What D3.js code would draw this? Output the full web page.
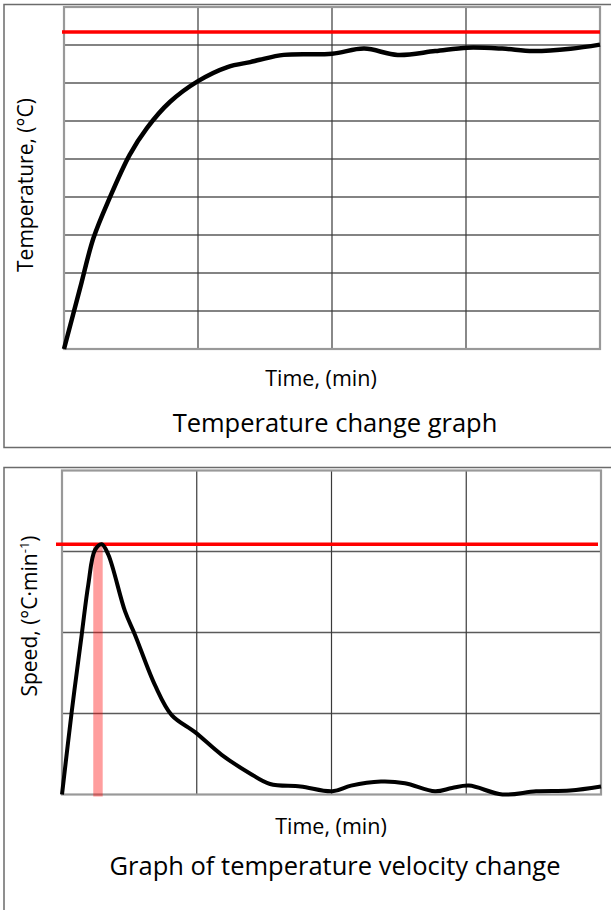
<!DOCTYPE html>
<html>
<head>
<meta charset="utf-8">
<script src="https://cdn.jsdelivr.net/npm/d3@7"></script>
<style>
  body { margin: 0; background: #fff; }
  text { font-family: "Open Sans", "Noto Sans", sans-serif; fill: #000; }
</style>
</head>
<body>
<div id="chart"></div>
<script>
// temperature curve, time in min (4 columns of 10), temperature (9 rows of 10)
var tempTime  = [0, 1.2, 2.2, 3.4, 4.9, 6.2, 7.9, 10, 12.2, 13.9, 14.6, 16.4, 20, 22.4, 24.9, 27.7, 30.1, 32.7, 35, 37.8, 40];
var tempValue = [0, 16, 29.2, 39.7, 51.1, 58.2, 65, 70.5, 74.2, 75.5, 76.1, 77.4, 77.7, 79.05, 77.4, 78.4, 79.3, 79.05, 78.4, 79, 80.1];
var tempTarget = 83.4;

// speed curve, time in min, speed (4 rows)
var speedTime  = [0, 0.72, 1.46, 1.95, 2.45, 2.95, 3.44, 4.68, 5.42, 6.9, 8.14, 9.87, 11.85, 13.95, 15.44, 17.7, 20.07, 21.45, 23.67, 25.45, 27.68, 28.94, 30.2, 32.69, 35.18, 37.7, 40];
var speedValue = [0, 1.02, 1.97, 2.59, 3.02, 3.09, 2.96, 2.26, 1.97, 1.35, 0.98, 0.77, 0.49, 0.26, 0.13, 0.1, 0.04, 0.11, 0.16, 0.14, 0.04, 0.08, 0.11, 0.0, 0.04, 0.05, 0.1];
var speedMax = 3.09;
var peakBand = [2.32, 3.02];

var width = 611, height = 910;

var svg = d3.select("#chart").append("svg")
    .attr("width", width)
    .attr("height", height);

// outer frames
svg.append("rect")
    .attr("x", 4).attr("y", 4.5)
    .attr("width", 640).attr("height", 443)
    .attr("fill", "none").attr("stroke", "#6b6b6b").attr("stroke-width", 1.5);
svg.append("rect")
    .attr("x", 4).attr("y", 467.5)
    .attr("width", 640).attr("height", 500)
    .attr("fill", "none").attr("stroke", "#6b6b6b").attr("stroke-width", 1.5);

function drawGrid(g, x, y, xTicks, yTicks) {
    g.selectAll(".hgrid").data(yTicks).enter().append("line")
        .attr("x1", x.range()[0]).attr("x2", x.range()[1])
        .attr("y1", function(d) { return y(d); })
        .attr("y2", function(d) { return y(d); })
        .attr("stroke", "#5a5a5a").attr("stroke-width", 1.3);
    g.selectAll(".vgrid").data(xTicks).enter().append("line")
        .attr("y1", y.range()[0]).attr("y2", y.range()[1])
        .attr("x1", function(d) { return x(d); })
        .attr("x2", function(d) { return x(d); })
        .attr("stroke", "#3a3a3a").attr("stroke-width", 1.2);
    // plot border
    g.append("rect")
        .attr("x", x.range()[0]).attr("y", y.range()[1])
        .attr("width", x.range()[1] - x.range()[0])
        .attr("height", y.range()[0] - y.range()[1])
        .attr("fill", "none").attr("stroke", "#999").attr("stroke-width", 2.2);
}

// ---------- top chart ----------
var x1 = d3.scaleLinear().domain([0, 40]).range([64, 600]);
var y1 = d3.scaleLinear().domain([0, 90]).range([349, 7]);
var topG = svg.append("g");

drawGrid(topG, x1, y1, [10, 20, 30], d3.range(10, 90, 10));

topG.append("line")
    .attr("x1", x1(0) - 2).attr("x2", x1(40))
    .attr("y1", y1(tempTarget)).attr("y2", y1(tempTarget))
    .attr("stroke", "#ff0000").attr("stroke-width", 3.5);

var line1 = d3.line()
    .x(function(d, i) { return x1(tempTime[i]); })
    .y(function(d) { return y1(d); })
    .curve(d3.curveCatmullRom.alpha(0.5));

topG.append("path")
    .attr("d", line1(tempValue))
    .attr("fill", "none").attr("stroke", "#000").attr("stroke-width", 4.5);

topG.append("text")
    .attr("transform", "translate(33,185) rotate(-90)")
    .attr("text-anchor", "middle")
    .style("font-size", "21px")
    .text("Temperature, (°C)");

topG.append("text")
    .attr("x", 321).attr("y", 386)
    .attr("text-anchor", "middle")
    .style("font-size", "21.5px")
    .text("Time, (min)");

topG.append("text")
    .attr("x", 335).attr("y", 432)
    .attr("text-anchor", "middle")
    .style("font-size", "25.5px")
    .text("Temperature change graph");

// ---------- bottom chart ----------
var x2 = d3.scaleLinear().domain([0, 40]).range([62, 601]);
var y2 = d3.scaleLinear().domain([0, 4]).range([794.5, 470.5]);
var botG = svg.append("g");

drawGrid(botG, x2, y2, [10, 20, 30], [1, 2, 3]);

botG.append("rect")
    .attr("x", x2(peakBand[0]))
    .attr("y", y2(speedMax))
    .attr("width", x2(peakBand[1]) - x2(peakBand[0]))
    .attr("height", y2(0) - y2(speedMax) + 2)
    .attr("fill", "#ff0000").attr("opacity", 0.38);

botG.append("line")
    .attr("x1", x2(0) - 6).attr("x2", x2(40) - 3)
    .attr("y1", y2(speedMax)).attr("y2", y2(speedMax))
    .attr("stroke", "#ff0000").attr("stroke-width", 3.5);

var line2 = d3.line()
    .x(function(d, i) { return x2(speedTime[i]); })
    .y(function(d) { return y2(d); })
    .curve(d3.curveCatmullRom.alpha(0.5));

botG.append("path")
    .attr("d", line2(speedValue))
    .attr("fill", "none").attr("stroke", "#000").attr("stroke-width", 4);

var sl = botG.append("text")
    .attr("transform", "translate(37,616) rotate(-90)")
    .attr("text-anchor", "middle")
    .style("font-size", "21px");
sl.append("tspan").text("Speed, (°C·min");
sl.append("tspan").attr("dy", -8).style("font-size", "13px").text("-1");
sl.append("tspan").attr("dy", 8).text(")");

botG.append("text")
    .attr("x", 331).attr("y", 834)
    .attr("text-anchor", "middle")
    .style("font-size", "21.5px")
    .text("Time, (min)");

botG.append("text")
    .attr("x", 335).attr("y", 875)
    .attr("text-anchor", "middle")
    .style("font-size", "25.5px")
    .text("Graph of temperature velocity change");
</script>
</body>
</html>
